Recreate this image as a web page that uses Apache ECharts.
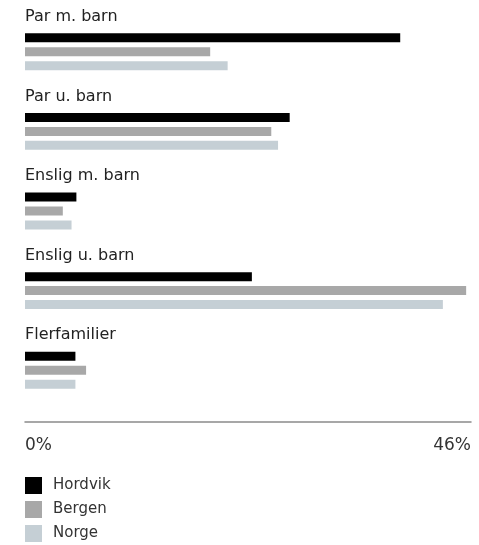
<!DOCTYPE html>
<html>
<head>
<meta charset="utf-8">
<script src="https://cdn.jsdelivr.net/npm/echarts@6/dist/echarts.min.js"></script>
<style>
html,body{margin:0;padding:0;background:#fff;}
#c{width:479px;height:545px;}
</style>
</head>
<body>
<div id="c"></div>
<script>
const categories = ['Par m. barn', 'Par u. barn', 'Enslig m. barn', 'Enslig u. barn', 'Flerfamilier'];
const seriesNames = ['Hordvik', 'Bergen', 'Norge'];
const hordvik = [38.7, 27.3, 5.3, 23.4, 5.2];
const bergen = [19.1, 25.4, 3.9, 45.5, 6.3];
const norge = [20.9, 26.1, 4.8, 43.1, 5.2];
const axisMin = 0, axisMax = 46;
const colors = ['#000000', '#a8a8a8', '#c5cfd5'];
const values = [hordvik, bergen, norge];

const chart = echarts.init(document.getElementById('c'));
const font = '"DejaVu Sans", sans-serif';
chart.setOption({
  animation: false,
  textStyle: { fontFamily: font },
  grid: { left: 25, right: 8, top: 12, height: 398 },
  legend: {
    orient: 'vertical', left: 25, top: 477, padding: 0,
    itemWidth: 17, itemHeight: 17, itemGap: 7,
    icon: 'rect',
    textStyle: { fontSize: 15, color: '#333', fontFamily: font, padding: [0,0,0,6] },
    data: seriesNames
  },
  xAxis: {
    type: 'value', min: axisMin, max: axisMax, interval: axisMax - axisMin,
    position: 'bottom', offset: 12,
    axisLine: { show: true, lineStyle: { color: '#8a8a8a', width: 1.5 } },
    axisTick: { show: false },
    splitLine: { show: false },
    axisLabel: {
      margin: 15, fontSize: 17, color: '#333', fontFamily: font,
      formatter: v => v + '%',
      alignMinLabel: 'left', alignMaxLabel: 'right'
    }
  },
  yAxis: {
    type: 'category', data: categories, inverse: true,
    axisLine: { show: false }, axisTick: { show: false },
    axisLabel: {
      inside: true, margin: 0, align: 'left',
      formatter: v => '{t|' + v + '}\n{s|}',
      rich: {
        t: { fontSize: 16, color: '#222', fontFamily: font, lineHeight: 18 },
        s: { lineHeight: 70, fontSize: 1 }
      }
    }
  },
  series: seriesNames.map((n, i) => ({
    name: n, type: 'bar', data: values[i], barWidth: 9, barGap: '55%',
    itemStyle: { color: colors[i] }
  }))
});
</script>
</body>
</html>
